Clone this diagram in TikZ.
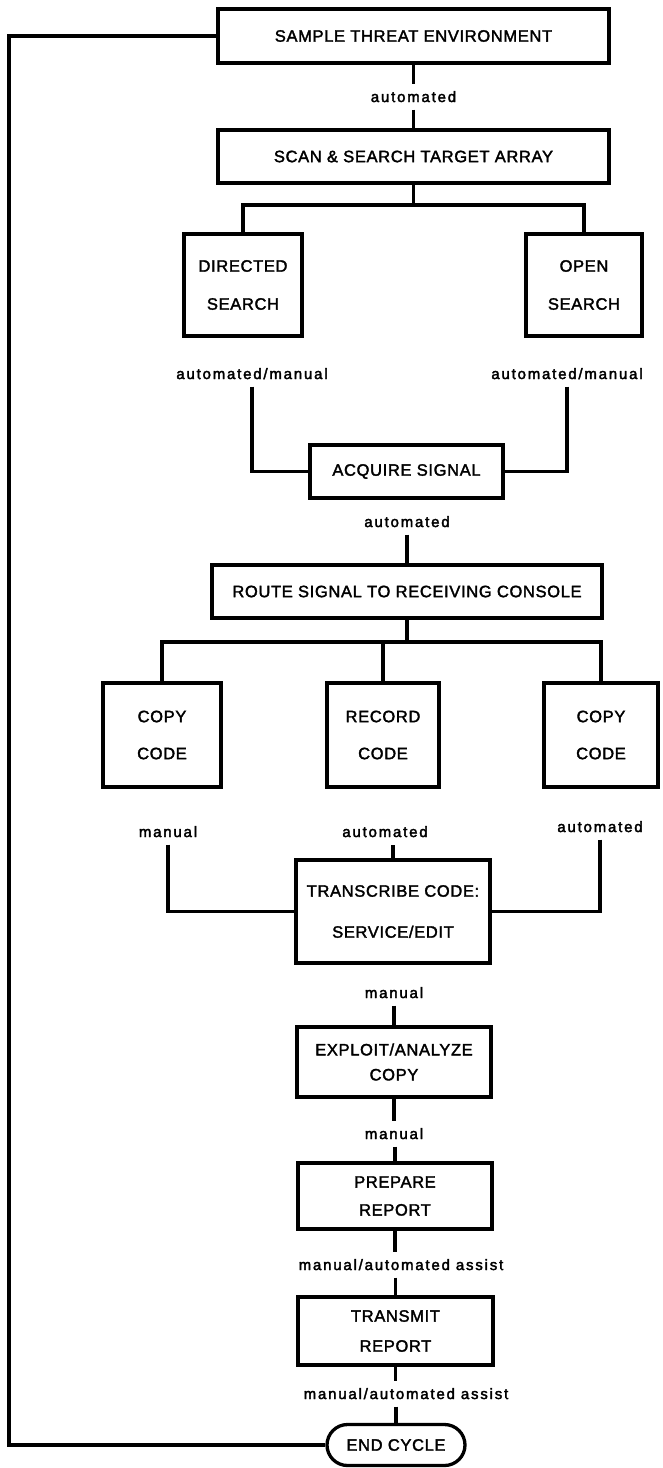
\documentclass[tikz,border=0pt]{standalone}
\usepackage{fontspec}
\setmainfont{Liberation Sans}
\newfontfamily\bxf[LetterSpace=4,FakeBold=2]{Liberation Sans}
\newfontfamily\lbf[LetterSpace=12,FakeBold=2.5]{Liberation Sans}
\usetikzlibrary{shapes.misc}
\begin{document}
\begin{tikzpicture}[x=1pt,y=-1pt,line width=3.3pt,
  box/.style={draw, rectangle, inner sep=0pt, align=center,
    font=\bxf\fontsize{16.5}{20}\selectfont},
  lines/.style={font=\bxf\fontsize{16.5}{#1}\selectfont},
  lbl/.style={inner xsep=2pt, inner ysep=5pt, text height=11pt, text depth=1pt,
    font=\lbf\fontsize{15}{18}\selectfont},
  endbox/.style={draw, rounded rectangle, inner sep=0pt,
    font=\bxf\fontsize{16.5}{20}\selectfont}]
\fill[white] (0,0) rectangle (663,1468);
\useasboundingbox (0,0) rectangle (663,1468);

% boxes
\node[box, minimum width=391pt, minimum height=54pt] (sample) at (413.5,36) {SAMPLE THREAT ENVIRONMENT};
\node[box, minimum width=391pt, minimum height=53pt] (scan) at (413.5,156.5) {SCAN \& SEARCH TARGET ARRAY};
\node[box, lines=38, minimum width=118pt, minimum height=102pt] (directed) at (243,285) {DIRECTED\\SEARCH};
\node[box, lines=38, minimum width=116pt, minimum height=102pt] (open) at (584,285) {OPEN\\SEARCH};
\node[box, minimum width=193pt, minimum height=53pt] (acquire) at (406.5,471.5) {ACQUIRE SIGNAL};
\node[box, minimum width=390pt, minimum height=53pt] (route) at (407,591.5) {ROUTE SIGNAL TO RECEIVING CONSOLE};
\node[box, lines=37, minimum width=118pt, minimum height=104pt] (copy1) at (162,735) {COPY\\CODE};
\node[box, lines=37, minimum width=112pt, minimum height=104pt] (record) at (383,735) {RECORD\\CODE};
\node[box, lines=37, minimum width=114pt, minimum height=104pt] (copy2) at (601,735) {COPY\\CODE};
\node[box, lines=41, minimum width=194pt, minimum height=103pt] (transcribe) at (393,911.5) {TRANSCRIBE CODE:\\SERVICE/EDIT};
\node[box, lines=25, minimum width=194pt, minimum height=70pt] (exploit) at (394,1062) {EXPLOIT/ANALYZE\\COPY};
\node[box, lines=28, minimum width=194pt, minimum height=66pt] (prepare) at (395,1196) {PREPARE\\REPORT};
\node[box, lines=30, minimum width=195pt, minimum height=68pt] (transmit) at (395.5,1331) {TRANSMIT\\REPORT};
\node[endbox, minimum width=138pt, minimum height=41pt] (endc) at (396,1445) {END CYCLE};

% labels
\node[lbl] (l1) at (413.5,97) {automated};
\node[lbl] (ldl) at (252,374) {automated/manual};
\node[lbl] (ldr) at (567,374) {automated/manual};
\node[lbl] (l2) at (407,522) {automated};
\node[lbl] (lcl) at (168,832) {manual};
\node[lbl] (lcm) at (385,832) {automated};
\node[lbl] (lcr) at (600,827) {automated};
\node[lbl] (l3) at (394,993) {manual};
\node[lbl] (l4) at (394,1134) {manual};
\node[lbl] (l5) at (401,1265) {manual/automated assist};
\node[lbl] (l6) at (406,1394) {manual/automated assist};

\coordinate (bus1) at (413.5,205);
\coordinate (bus2) at (407,642);
\coordinate (lp) at (9,0);

% connectors
\draw (sample.south) -- (sample.south |- l1.north);
\draw (scan.north |- l1.south) -- (scan.north);
\draw (scan.south) -- (bus1);
\draw (directed.north) -- (directed.north |- bus1) -- (open.north |- bus1) -- (open.north);
\draw (ldl.south) |- (acquire.west);
\draw (ldr.south) |- (acquire.east);
\draw (route.north |- l2.south) -- (route.north);
\draw (route.south) -- (bus2);
\draw (copy1.north) -- (copy1.north |- bus2) -- (copy2.north |- bus2) -- (copy2.north);
\draw (record.north) -- (record.north |- bus2);
\draw (lcl.south) |- (transcribe.west);
\draw (lcr.south) |- (transcribe.east);
\draw (transcribe.north) -- (transcribe.north |- lcm.south);
\draw (exploit.north |- l3.south) -- (exploit.north);
\draw (exploit.south) -- (exploit.south |- l4.north);
\draw (prepare.north |- l4.south) -- (prepare.north);
\draw (prepare.south) -- (prepare.south |- l5.north);
\draw (transmit.north |- l5.south) -- (transmit.north);
\draw (transmit.south) -- (transmit.south |- l6.north);
\draw (endc.north |- l6.south) -- (endc.north);
\draw (sample.west) -- (sample.west -| lp) -- (endc.west -| lp) -- (endc.west);
\end{tikzpicture}
\end{document}
